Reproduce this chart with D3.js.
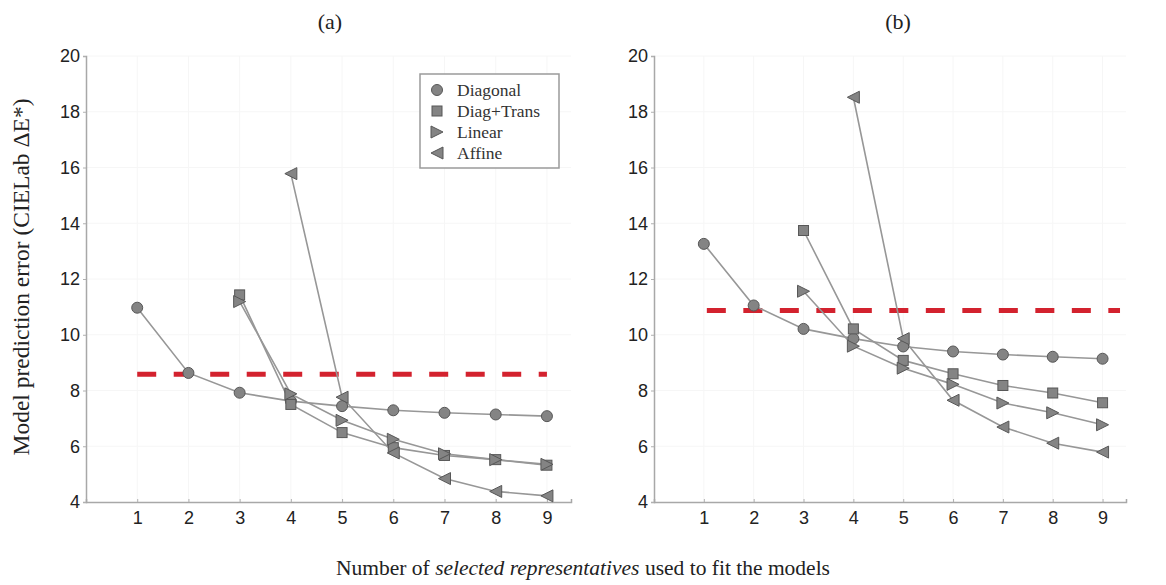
<!DOCTYPE html>
<html>
<head>
<meta charset="utf-8">
<script src="https://cdn.jsdelivr.net/npm/d3@7"></script>
<style>
  html, body { margin: 0; padding: 0; background: #fff; }
  svg { display: block; }
</style>
</head>
<body>
<svg id="chart" width="1166" height="585"></svg>
<script>
// Number of representatives used to fit each model
const reps = [1, 2, 3, 4, 5, 6, 7, 8, 9];
const seriesNames = ["Diagonal", "Diag+Trans", "Linear", "Affine"];
const yTicks = [4, 6, 8, 10, 12, 14, 16, 18, 20];
const xTicks = [1, 2, 3, 4, 5, 6, 7, 8, 9];

// Panel (a): prediction error per model (null = model not fitted yet)
const aDiagonal  = [10.97, 8.63, 7.92, 7.62, 7.44, 7.29, 7.20, 7.14, 7.08];
const aDiagTrans = [null, null, 11.43, 7.50, 6.49, 5.95, 5.67, 5.52, 5.32];
const aLinear    = [null, null, 11.19, 7.88, 6.93, 6.25, 5.73, 5.52, 5.35];
const aAffine    = [null, null, null, 15.78, 7.76, 5.76, 4.84, 4.38, 4.22];
const aBaseline  = 8.58;
const aBaselineSpan = [1, 9];

// Panel (b)
const bDiagonal  = [13.26, 11.05, 10.21, 9.86, 9.58, 9.40, 9.29, 9.21, 9.14];
const bDiagTrans = [null, null, 13.74, 10.21, 9.08, 8.60, 8.18, 7.91, 7.56];
const bLinear    = [null, null, 11.56, 9.59, 8.80, 8.22, 7.55, 7.20, 6.77];
const bAffine    = [null, null, null, 18.52, 9.86, 7.65, 6.69, 6.11, 5.79];
const bBaseline  = 10.87;
const bBaselineSpan = [1.06, 9.35];

const svg = d3.select("#chart");
const serif = "'Liberation Serif', 'Times New Roman', serif";
const sans = "'Liberation Sans', Arial, sans-serif";

const markerFill = "#848484";
const markerStroke = "#575757";
const lineColor = "#979797";

const symbolTypes = {
  "Diagonal": "circle",
  "Diag+Trans": "square",
  "Linear": "right",
  "Affine": "left"
};

function drawMarker(g, type, cx, cy) {
  if (type === "circle") {
    g.append("circle").attr("cx", cx).attr("cy", cy).attr("r", 5.5)
      .attr("fill", markerFill).attr("stroke", markerStroke).attr("stroke-width", 1);
  } else if (type === "square") {
    g.append("rect").attr("x", cx - 5).attr("y", cy - 5).attr("width", 10).attr("height", 10)
      .attr("fill", markerFill).attr("stroke", markerStroke).attr("stroke-width", 1);
  } else {
    const s = 6;
    const pts = type === "right"
      ? [[cx - s, cy - s], [cx + s, cy], [cx - s, cy + s]]
      : [[cx + s, cy - s], [cx - s, cy], [cx + s, cy + s]];
    g.append("path").attr("d", "M" + pts.map(p => p.join(",")).join("L") + "Z")
      .attr("fill", markerFill).attr("stroke", markerStroke).attr("stroke-width", 1);
  }
}

const y = d3.scaleLinear().domain([4, 20]).range([502, 56]);

function drawPanel(opts) {
  const x = d3.scaleLinear().domain([0, 9.47]).range(opts.range);
  const g = svg.append("g");

  // very faint grid
  g.append("g").selectAll("line").data(xTicks).join("line")
    .attr("x1", d => x(d)).attr("x2", d => x(d))
    .attr("y1", y(20)).attr("y2", y(4))
    .attr("stroke", "#f6f6f6").attr("stroke-width", 1);
  g.append("g").selectAll("line").data(yTicks.slice(1)).join("line")
    .attr("x1", x(0)).attr("x2", x(9.47))
    .attr("y1", d => y(d)).attr("y2", d => y(d))
    .attr("stroke", "#f6f6f6").attr("stroke-width", 1);

  // axes
  const xAxis = d3.axisBottom(x).tickValues(xTicks).tickSize(-3).tickPadding(9)
    .tickFormat(d3.format("d"));
  const gx = g.append("g").attr("transform", `translate(0,${y(4)})`).call(xAxis);
  const yAxis = d3.axisLeft(y).tickValues(yTicks).tickSize(3).tickPadding(3)
    .tickFormat(d3.format("d"));
  const gy = g.append("g").attr("transform", `translate(${x(0)},0)`).call(yAxis);
  [gx, gy].forEach(a => {
    a.select(".domain").attr("stroke", "#a8a8a8").attr("stroke-width", 1.5);
    a.selectAll(".tick line").attr("stroke", "#b0b0b0");
    a.selectAll(".tick text").attr("fill", "#222")
      .style("font-family", sans).style("font-size", "18px");
  });

  // panel title
  g.append("text").attr("x", opts.titleX).attr("y", 29)
    .attr("text-anchor", "middle").style("font-family", serif).style("font-size", "22px")
    .attr("fill", "#222").text(opts.title);

  // baseline (red dashed)
  g.append("line")
    .attr("x1", x(opts.baselineSpan[0])).attr("x2", x(opts.baselineSpan[1]))
    .attr("y1", y(opts.baseline)).attr("y2", y(opts.baseline))
    .attr("stroke", "#d3222e").attr("stroke-width", 5)
    .attr("stroke-dasharray", "19,17.5");

  const line = d3.line()
    .defined(d => d.v !== null)
    .x(d => x(d.n)).y(d => y(d.v));

  opts.series.forEach(vals => {
    const pts = reps.map((n, j) => ({ n, v: vals[j] }));
    g.append("path").datum(pts).attr("d", line)
      .attr("fill", "none").attr("stroke", lineColor).attr("stroke-width", 1.6);
  });
  opts.series.forEach((vals, i) => {
    const type = symbolTypes[seriesNames[i]];
    const mg = g.append("g");
    reps.forEach((n, j) => {
      if (vals[j] !== null) drawMarker(mg, type, x(n), y(vals[j]));
    });
  });
  return x;
}

drawPanel({
  range: [86, 571], title: "(a)", titleX: 330,
  series: [aDiagonal, aDiagTrans, aLinear, aAffine],
  baseline: aBaseline, baselineSpan: aBaselineSpan
});
drawPanel({
  range: [654, 1126], title: "(b)", titleX: 898,
  series: [bDiagonal, bDiagTrans, bLinear, bAffine],
  baseline: bBaseline, baselineSpan: bBaselineSpan
});

// legend
const lg = svg.append("g").attr("transform", "translate(420,74)");
lg.append("rect").attr("width", 139).attr("height", 94)
  .attr("fill", "#fff").attr("stroke", "#9a9a9a").attr("stroke-width", 1.5);
seriesNames.forEach((name, i) => {
  const cy = 16 + i * 21;
  drawMarker(lg, symbolTypes[name], 17, cy);
  lg.append("text").attr("x", 37).attr("y", cy + 5.5)
    .style("font-family", serif).style("font-size", "17.5px").attr("fill", "#333")
    .text(name);
});

// axis titles
svg.append("text")
  .attr("transform", "translate(29,277) rotate(-90)")
  .attr("text-anchor", "middle")
  .style("font-family", serif).style("font-size", "23.5px").attr("fill", "#222")
  .text("Model prediction error (CIELab ΔE*)");

const xl = svg.append("text")
  .attr("x", 583).attr("y", 575).attr("text-anchor", "middle")
  .style("font-family", serif).style("font-size", "21.5px").attr("fill", "#222");
xl.append("tspan").text("Number of ");
xl.append("tspan").style("font-style", "italic").text("selected representatives");
xl.append("tspan").text(" used to fit the models");
</script>
</body>
</html>
